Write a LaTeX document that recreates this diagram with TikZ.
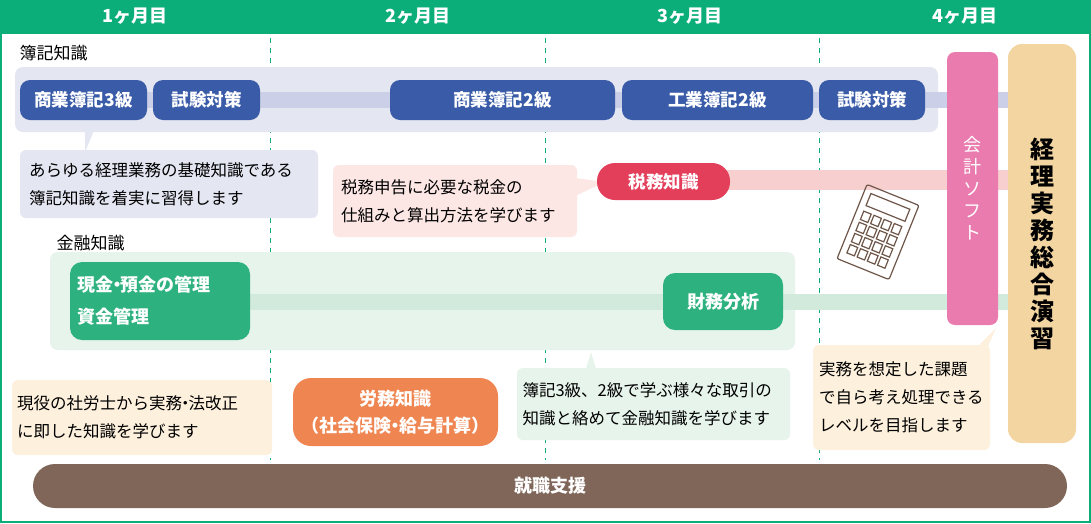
\documentclass[tikz,border=0pt]{standalone}
\usepackage{fontspec}
\setmainfont{Noto Sans CJK JP}
\usetikzlibrary{positioning}
\definecolor{hdgreen}{HTML}{0BAE78}
\definecolor{bkbg}{HTML}{E4E6F2}
\definecolor{bkbar}{HTML}{CBCFE7}
\definecolor{bkblue}{HTML}{3A5CA8}
\definecolor{taxred}{HTML}{E33E5A}
\definecolor{taxbg}{HTML}{FCE7E5}
\definecolor{taxbar}{HTML}{F8CFCF}
\definecolor{fnbg}{HTML}{E7F4EC}
\definecolor{fnbar}{HTML}{D2EADB}
\definecolor{fngreen}{HTML}{2DB17F}
\definecolor{swpink}{HTML}{E97BAE}
\definecolor{extan}{HTML}{F2D5A1}
\definecolor{crbg}{HTML}{FDF0DD}
\definecolor{lborange}{HTML}{EF8550}
\definecolor{jbbrown}{HTML}{7F6659}
\definecolor{calc}{HTML}{6E5649}
\newcommand{\mdot}{\hspace{-0.3em}・\hspace{-0.3em}}
\begin{document}
\begin{tikzpicture}[x=1pt,y=-1pt]
  \tikzstyle{bnode} = [fill=bkblue, text=white, rounded corners=10pt, inner sep=0pt, font=\fontsize{17.5}{20}\selectfont\bfseries]
  \tikzstyle{gnode} = [fill=fngreen, text=white, rounded corners=12pt, inner sep=0pt, align=left, font=\fontsize{18}{32}\selectfont\bfseries]
  \tikzstyle{note} = [rounded corners=6pt, inner sep=0pt, align=left, text width=#1, font=\fontsize{16.5}{28}\selectfont]
  \tikzstyle{month} = [text=white, font=\fontsize{18}{20}\selectfont\bfseries]
  \tikzstyle{sect} = [anchor=west, font=\fontsize{17}{20}\selectfont]

  \useasboundingbox (0,0) rectangle (1091,523);
  % frame and header
  \fill[hdgreen] (0,0) rectangle (1091,523);
  \fill[white] (2,34) rectangle (1089,521);
  \foreach \mx/\mt in {135/1,418/2,690/3,965/4}
    \node[month] (m\mt) at (\mx,16) {\mt ヶ月目};
  \foreach \lx in {270,545,819}
    \draw[hdgreen, thick, dash pattern=on 5pt off 5pt] (\lx,38) -- (\lx,460);

  % bookkeeping
  \node[sect] (bklabel) at (16,53) {簿記知識};
  \fill[bkbg, rounded corners=8pt] (15,67) rectangle (938,132);
  \fill[bkbar] (20,92) rectangle (1010,108);
  \node[bnode, minimum width=127pt, minimum height=40pt] (bk3) at (83.5,100) {商業簿記3級};
  \node[bnode, minimum width=107pt, minimum height=40pt] (bkex1) at (206.5,100) {試験対策};
  \node[bnode, minimum width=225pt, minimum height=40pt] (bk2) at (502.5,100) {商業簿記2級};
  \node[bnode, minimum width=191pt, minimum height=40pt] (ind2) at (717.5,100) {工業簿記2級};
  \node[bnode, minimum width=106pt, minimum height=40pt] (bkex2) at (872,100) {試験対策};
  \fill[bkbg] (85,128) -- (95,128) -- (85,152) -- cycle;
  \node[note=280pt, fill=bkbg, minimum width=298pt, minimum height=68pt] (bknote) at (169,184) {あらゆる経理業務の基礎知識である\\簿記知識を着実に習得します};

  % tax
  \fill[taxbar] (720,170) rectangle (1010,190);
  \fill[taxbg] (575,178) -- (605,182) -- (575,196) -- cycle;
  \node[note=228pt, fill=taxbg, minimum width=244pt, minimum height=72pt] (taxnote) at (455,201) {税務申告に必要な税金の\\仕組みと算出方法を学びます};
  \node[fill=taxred, text=white, rounded corners=18pt, minimum width=133pt, minimum height=37pt, font=\fontsize{17.5}{20}\selectfont\bfseries] (tax) at (663.5,181.5) {税務知識};

  % calculator
  \begin{scope}[shift={(878,232)}, rotate=-22, calc, line width=1.2pt]
    \draw[rounded corners=2pt] (-28,-40) rectangle (28,40);
    \draw (-21,-33) rectangle (21,-20);
    \foreach \ci in {0,...,3}
      \foreach \cj in {0,...,3}
        \draw (-21+\ci*11,-14+\cj*12) rectangle ++(8,9);
  \end{scope}

  % finance
  \node[sect] (fnlabel) at (53,243) {金融知識};
  \fill[fnbg, rounded corners=8pt] (50,252) rectangle (795,350);
  \fill[fnbar] (240,294) rectangle (1010,310);
  \node[gnode, minimum width=180pt, minimum height=78pt, text width=165pt] (cash) at (160,301) {現金\mdot 預金の管理\\資金管理};
  \node[fill=fngreen, text=white, rounded corners=12pt, minimum width=120pt, minimum height=57pt, font=\fontsize{18}{20}\selectfont\bfseries] (fin) at (723,301.5) {財務分析};
  \fill[fnbg] (585,372) -- (597,372) -- (591,352) -- cycle;
  \node[note=262pt, fill=fnbg, minimum width=273pt, minimum height=72pt] (fnnote) at (653.5,404) {簿記3級、2級で学ぶ様々な取引の\\知識と絡めて金融知識を学びます};

  % software and exercise
  \node[fill=swpink, text=white, rounded corners=8pt, minimum width=51pt, minimum height=273pt, align=center, font=\fontsize{18}{22}\selectfont] (soft) at (972.5,188.5) {会\\計\\ソ\\フ\\ト};
  \node[fill=extan, rounded corners=14pt, minimum width=68pt, minimum height=399pt, align=center, font=\fontsize{24}{27}\selectfont\bfseries] (exer) at (1042,243.5) {経\\理\\実\\務\\総\\合\\演\\習};
  \fill[crbg] (975,349) -- (987,349) -- (996,328) -- cycle;
  \node[note=165pt, fill=crbg, minimum width=177pt, minimum height=105pt] (exnote) at (901.5,397.5) {実務を想定した課題\\で自ら考え処理できる\\レベルを目指します};

  % labour
  \node[note=250pt, fill=crbg, minimum width=260pt, minimum height=75pt] (lbnote) at (142,417.5) {現役の社労士から実務\mdot 法改正\\に即した知識を学びます};
  \node[fill=lborange, text=white, rounded corners=18pt, minimum width=205pt, minimum height=68pt, align=center, font=\fontsize{18}{27}\selectfont\bfseries] (lab) at (395.5,412) {労務知識\\（社会保険\mdot 給与計算）};

  % job support
  \node[fill=jbbrown, text=white, rounded corners=22pt, minimum width=1034pt, minimum height=44pt, font=\fontsize{18}{20}\selectfont\bfseries] (job) at (550,486) {就職支援};
\end{tikzpicture}
\end{document}
